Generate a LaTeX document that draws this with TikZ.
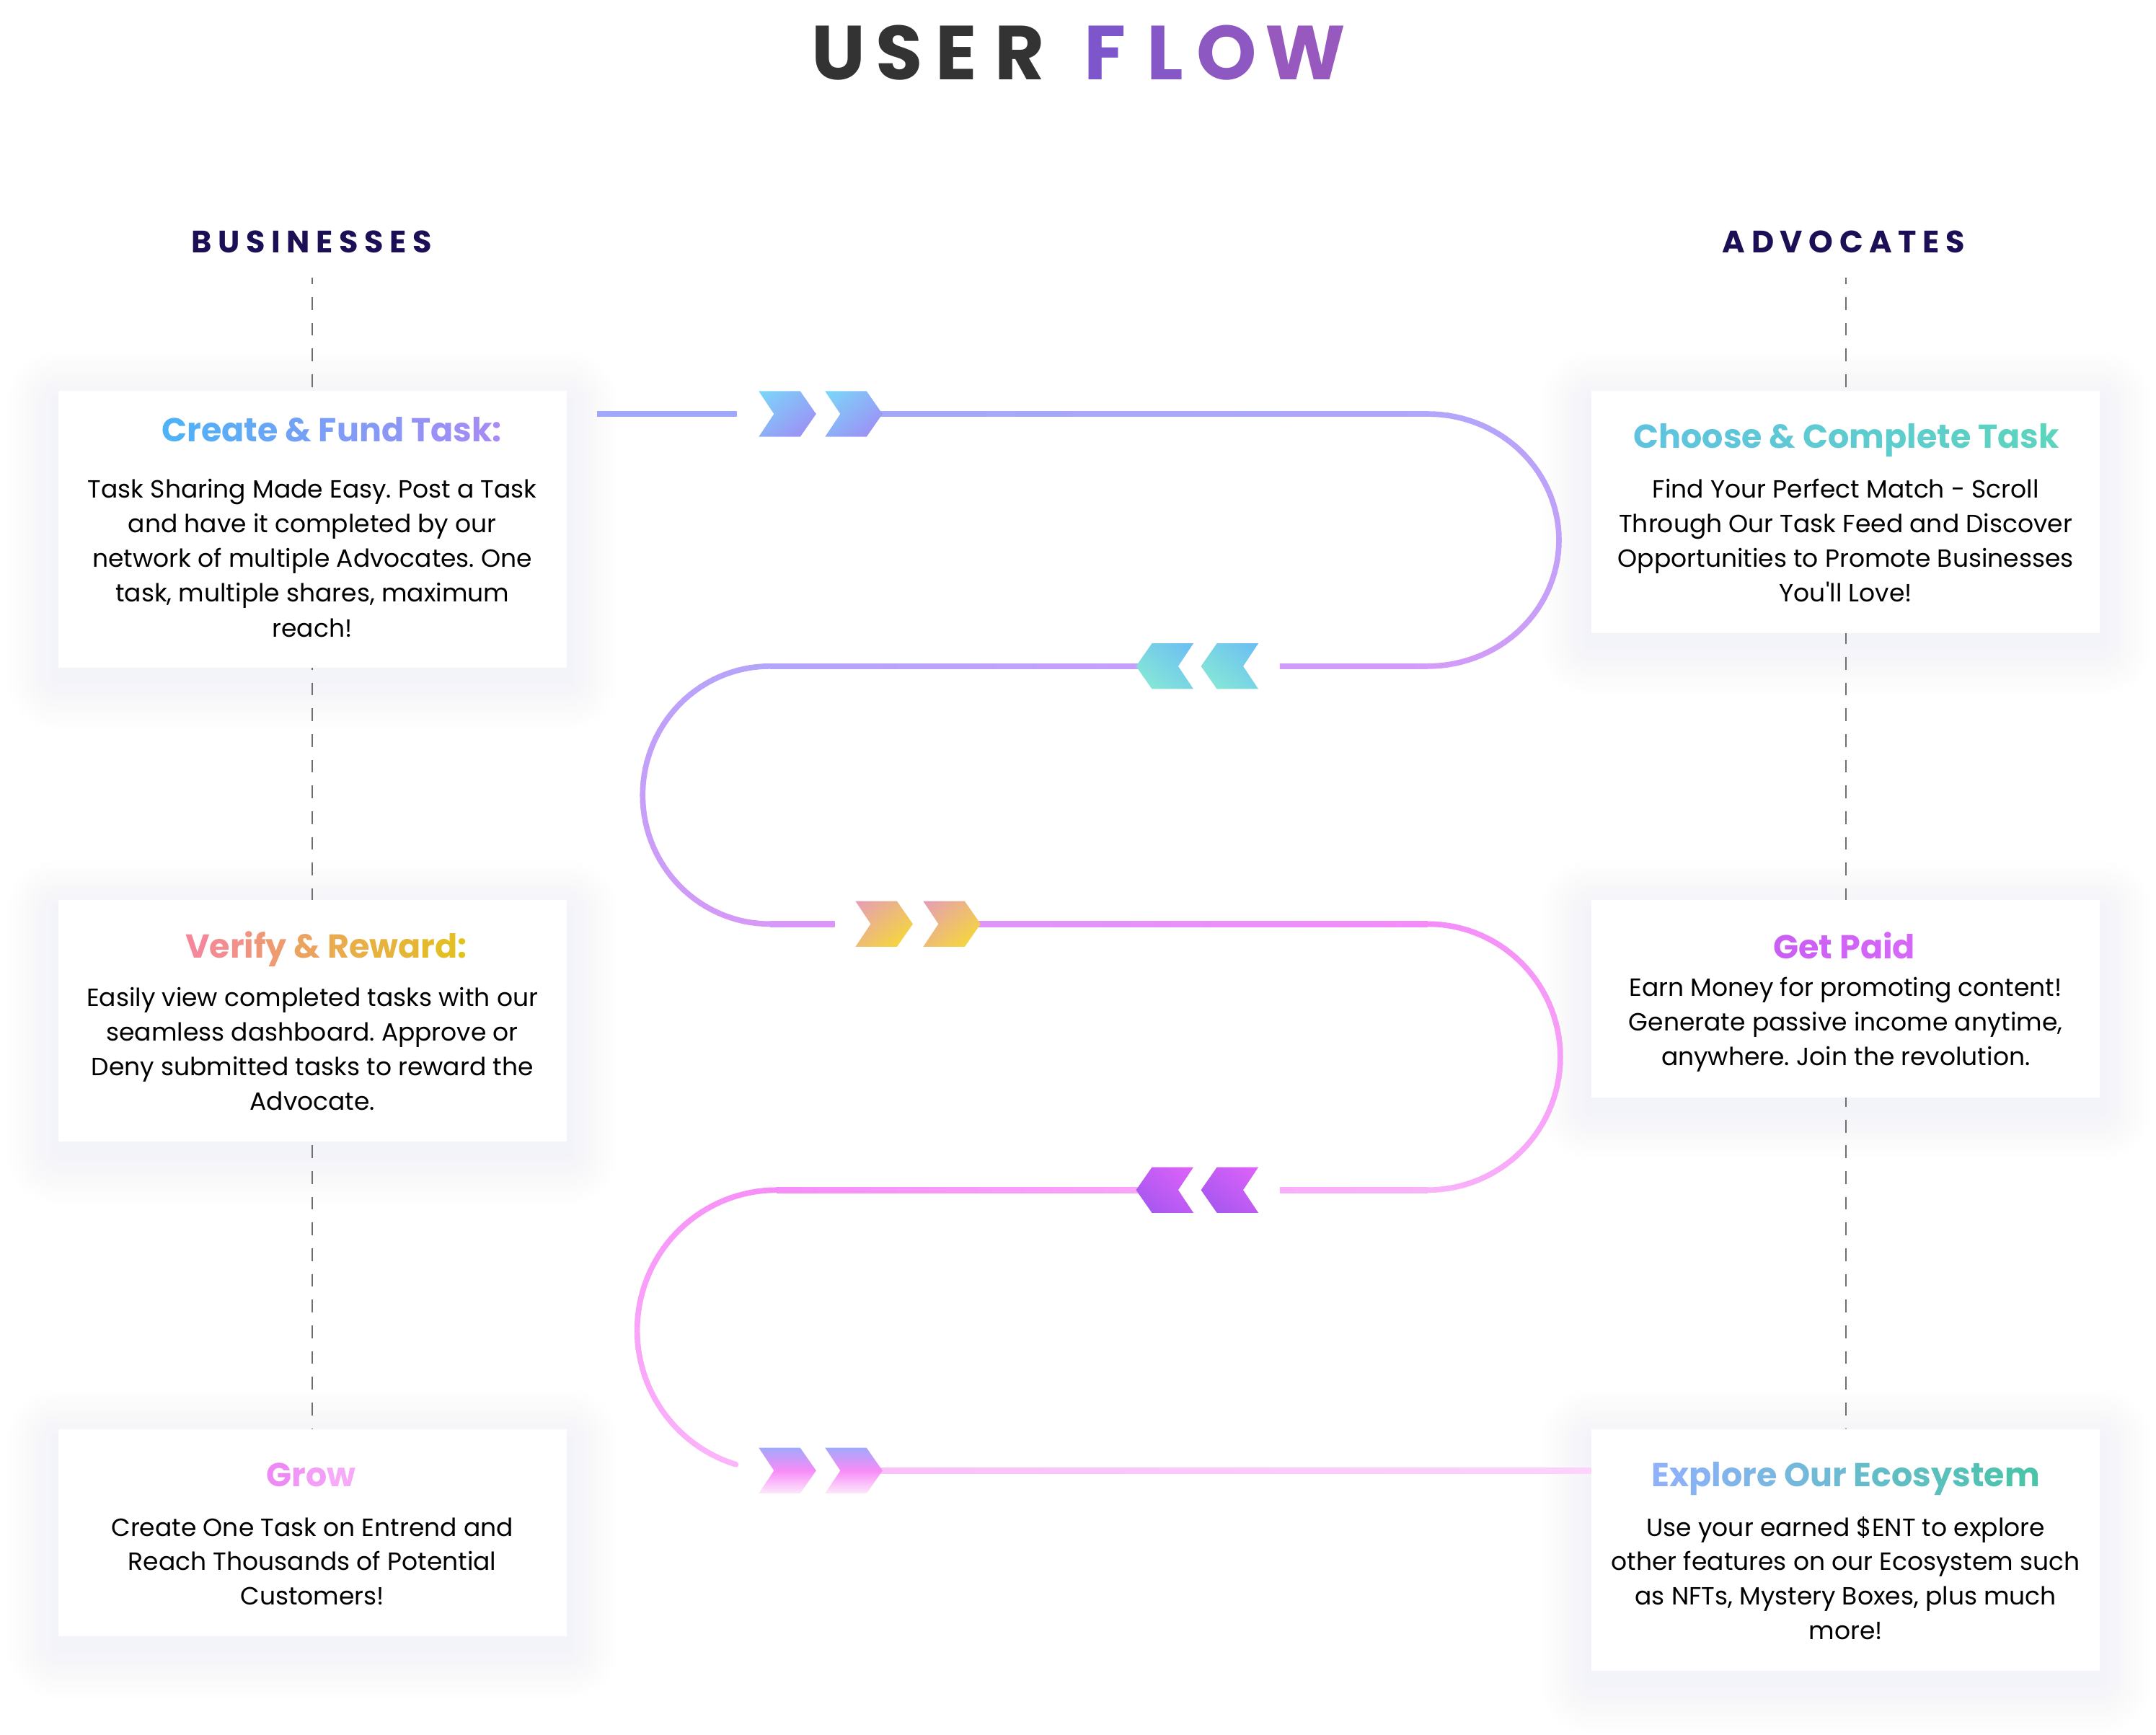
\documentclass[tikz,border=0pt]{standalone}
\usepackage{fontspec}
\setmainfont{Poppins}
\newfontfamily\pop{Poppins}
\newfontfamily\labelfont[LetterSpace=20]{Poppins}
\usetikzlibrary{calc,shadings}
\pgfdeclarelayer{shadowlayer}
\pgfdeclarelayer{dashlayer}
\pgfsetlayers{shadowlayer,dashlayer,main}

\definecolor{titlegray}{HTML}{333333}
\definecolor{navy}{HTML}{1C0F56}
\definecolor{dashgray}{HTML}{6E6E6E}
\definecolor{shadowc}{HTML}{D8E0FA}
% heading gradients
\definecolor{hAa}{HTML}{4FB1F6}\definecolor{hAb}{HTML}{A88BF5}
\definecolor{hBa}{HTML}{5FC3E0}\definecolor{hBb}{HTML}{5CD4BE}
\definecolor{hCa}{HTML}{F4889A}\definecolor{hCb}{HTML}{E2C21C}
\definecolor{hDa}{HTML}{CB5EF5}\definecolor{hDb}{HTML}{D567F9}
\definecolor{hEa}{HTML}{EE8AF6}\definecolor{hEb}{HTML}{F6AAF8}
\definecolor{hFa}{HTML}{8EB1FA}\definecolor{hFb}{HTML}{4CC4AC}
% title FLOW
\definecolor{fF}{HTML}{7E56CB}\definecolor{fL}{HTML}{8557C7}
\definecolor{fO}{HTML}{8E58C3}\definecolor{fW}{HTML}{9859BF}
% path colours
\definecolor{pA}{HTML}{A0A8F9}\definecolor{pB}{HTML}{A3A8F9}
\definecolor{pC}{HTML}{B0A6FA}\definecolor{pD}{HTML}{D49BF8}
\definecolor{pE}{HTML}{B3A5FA}\definecolor{pF}{HTML}{C6A0FA}
\definecolor{pG}{HTML}{CE9CF9}\definecolor{pH}{HTML}{D898F8}
\definecolor{pI}{HTML}{DA97F8}\definecolor{pJ}{HTML}{DE95F8}
\definecolor{pK}{HTML}{F48CF8}\definecolor{pL}{HTML}{F9B3F9}
\definecolor{pM}{HTML}{F78DF8}\definecolor{pN}{HTML}{F9A4F9}
\definecolor{pO}{HTML}{F9AEF9}\definecolor{pP}{HTML}{FBB6FA}
\definecolor{pQ}{HTML}{FAC0FA}\definecolor{pR}{HTML}{FBD3FB}
% chevron colours
\definecolor{kAa}{HTML}{7AD8F9}\definecolor{kAb}{HTML}{A286F4}
\definecolor{kBa}{HTML}{6ABDF4}\definecolor{kBb}{HTML}{8AEDD2}
\definecolor{kCa}{HTML}{E59DB8}\definecolor{kCb}{HTML}{F7DF2A}
\definecolor{kDa}{HTML}{DF63F9}\definecolor{kDb}{HTML}{9E55EF}
\definecolor{kEa}{HTML}{A2A8FA}\definecolor{kEm}{HTML}{F78CF8}\definecolor{kEb}{HTML}{FDE9FB}

\ExplSyntaxOn
\int_new:N \l_gt_n_int
\int_new:N \l_gt_i_int
\str_new:N \l_gt_str
\NewDocumentCommand \gradtext { m m m }
  {
    \str_set:Nn \l_gt_str {#3}
    \int_set:Nn \l_gt_n_int { \int_max:nn {1} { \str_count:N \l_gt_str - 1 } }
    \int_zero:N \l_gt_i_int
    \str_map_inline:Nn \l_gt_str
      {
        \str_if_eq:nnTF {##1} {~}
          { \c_space_tl }
          {
            \exp_args:Nx \color { #2 ! \int_eval:n { 100 * \l_gt_i_int / \l_gt_n_int } ! #1 }
            ##1
          }
        \int_incr:N \l_gt_i_int
      }
  }
\ExplSyntaxOff

% arc with colour gradient: cx cy rx ry t1 t2 colA colB
\newcommand\gradarc[8]{%
  \foreach \k in {1,...,60}{%
    \pgfmathsetmacro\ta{#5+(#6-#5)*(\k-1)/60}%
    \pgfmathsetmacro\tb{#5+(#6-#5)*\k/60}%
    \pgfmathtruncatemacro\pc{100*(\k-0.5)/60}%
    \draw[pathline, color=#8!\pc!#7] ({#1+#3*cos(\ta)},{#2+#4*sin(\ta)}) -- ({#1+#3*cos(\tb)},{#2+#4*sin(\tb)});
  }}
% right-pointing chevron: left x, centre y, shading options
\newcommand\chevR[3]{\shade[#3] (#1,#2) ++(0,-16.5) -- ++(30,0) -- ++(11.5,16.5) -- ++(-11.5,16.5) -- ++(-30,0) -- ++(11,-16.5) -- cycle;}
% left-pointing chevron: tip x, centre y, shading options
\newcommand\chevL[3]{\shade[#3] (#1,#2) -- ++(11.5,-16.5) -- ++(30,0) -- ++(-11,16.5) -- ++(11,16.5) -- ++(-30,0) -- cycle;}
% straight gradient stroke: x1 x2 y colA colB
\newcommand\gradline[5]{\shade[left color=#4, right color=#5] (#1,{#3-2}) rectangle (#2,{#3+2});}

\tikzset{
  pathline/.style={line width=2pt, line cap=round},
  dashline/.style={draw=dashgray, line width=0.6pt, dash pattern=on 4.65pt off 4.65pt, dash phase=2.35pt},
  card/.style={fill=white, inner sep=0pt, minimum width=184pt},
  head/.style={font=\pop\bfseries\fontsize{12}{14}\selectfont, anchor=base, inner sep=0pt},
  bodytext/.style={font=\pop\frenchspacing\fontsize{9}{10}\selectfont, anchor=base, inner sep=0pt, text=black},
  lab/.style={font=\labelfont\bfseries\fontsize{11.2}{13}\selectfont, anchor=base, inner sep=0pt, text=navy},
  ttl/.style={font=\pop\bfseries\fontsize{27.7}{30}\selectfont, anchor=base, inner sep=0pt},
  chevA/.style={upper left=kAa, lower right=kAb, upper right=kAa!50!kAb, lower left=kAa!50!kAb},
  chevB/.style={upper right=kBa, lower left=kBb, upper left=kBa!50!kBb, lower right=kBa!50!kBb},
  chevC/.style={upper left=kCa, lower right=kCb, upper right=kCa!50!kCb, lower left=kCa!50!kCb},
  chevD/.style={upper right=kDa, lower left=kDb, upper left=kDa!50!kDb, lower right=kDa!50!kDb},
  chevE/.style={top color=kEa, bottom color=kEb, middle color=kEm},
}

\begin{document}
\begin{tikzpicture}[x=0.5pt,y=-0.5pt]
\useasboundingbox (0,0) rectangle (1560,1255);
\begin{pgfonlayer}{shadowlayer}
  \fill[white] (0,0) rectangle (1560,1255);
\end{pgfonlayer}

% ---------- cards ----------
\node[card, minimum height=100pt] (L1) at (226,383) {};
\node[card, minimum height=87.5pt] (L2) at (226,738.5) {};
\node[card, minimum height=75pt] (L3) at (226,1109) {};
\node[card, minimum height=87.5pt] (R1) at (1335.5,370.5) {};
\node[card, minimum height=71.5pt] (R2) at (1335.5,722.5) {};
\node[card, minimum height=87.5pt] (R3) at (1335.5,1121.5) {};

\begin{pgfonlayer}{shadowlayer}
  \foreach \b in {L1,L2,L3,R1,R2,R3}{
    \foreach \i in {1,...,12}{
      \pgfmathsetmacro\rr{\i*1.5}
      \fill[shadowc, opacity=0.02, rounded corners=\rr pt]
        ($(\b.south west)+(-\i*3,\i*3+8)$) rectangle ($(\b.north east)+(\i*3,-\i*3+8)$);
    }
  }
\end{pgfonlayer}

% ---------- dashed guide lines ----------
\coordinate (dL) at (226,201);
\coordinate (dR) at (1335.5,201);
\begin{pgfonlayer}{dashlayer}
  \draw[dashline] (dL) -- (L3.north);
  \draw[dashline] (dR) -- (R3.north);
\end{pgfonlayer}

% ---------- title ----------
\node[ttl, text=titlegray] (tU) at (606.8,57.4) {U};
\node[ttl, text=titlegray] (tS) at (650.8,57.4) {S};
\node[ttl, text=titlegray] (tE) at (692,57.4) {E};
\node[ttl, text=titlegray] (tR) at (738,57.4) {R};
\node[ttl, text=fF] (tF) at (799.6,57.4) {F};
\node[ttl, text=fL] (tL) at (843,57.4) {L};
\node[ttl, text=fO] (tO) at (887.8,57.4) {O};
\node[ttl, text=fW] (tW) at (944.3,57.4) {W};

% ---------- column labels ----------
\node[lab] (bus) at (225.5,183) {BUSINESSES};
\node[lab] (adv) at (1334,183) {ADVOCATES};

% ---------- serpentine path ----------
% row 1
\gradline{432}{533}{299.5}{pA}{pA}
\gradline{636}{1033}{299.5}{pB}{pC}
\gradarc{1033}{390.75}{95}{91.25}{-90}{90}{pC}{pD}
% row 2
\gradline{926}{1033}{482}{pG}{pD}
\gradline{557}{828}{482}{pE}{pF}
\gradarc{557}{575.25}{92}{93.25}{270}{90}{pE}{pH}
% row 3
\gradline{557}{604}{668.5}{pH}{pI}
\gradline{707}{1033}{668.5}{pJ}{pK}
\gradarc{1033}{764.75}{96}{96.25}{-90}{90}{pK}{pL}
% row 4
\gradline{926}{1033}{861}{pO}{pL}
\gradline{562}{828}{861}{pM}{pN}
\gradarc{562}{962.5}{101}{101.5}{270}{107}{pM}{pP}
% row 5 (runs into the last advocate card)
\coordinate (r5) at (636,1064);
\shade[left color=pQ, right color=pR] ($(r5)+(0,-2)$) rectangle ($(R3.west |- r5)+(0,2)$);

% chevrons
\chevR{549}{299.5}{chevA}
\chevR{597}{299.5}{chevA}
\chevL{822}{482}{chevB}
\chevL{869}{482}{chevB}
\chevR{619}{668.5}{chevC}
\chevR{668}{668.5}{chevC}
\chevL{822}{861}{chevD}
\chevL{869}{861}{chevD}
\chevR{549}{1064}{chevE}
\chevR{597}{1064}{chevE}

% ---------- card texts ----------
\node[head] (hL1) at (240,319.6) {\gradtext{hAa}{hAb}{Create & Fund Task:}};
\foreach \t [count=\i] in {{Task Sharing Made Easy. Post a Task},{and have it completed by our},{network of multiple Advocates. One},{task, multiple shares, maximum},{reach!}}
  \node[bodytext] (bL1\i) at (226,{360+25.2*(\i-1)}) {\t};

\node[head] (hR1) at (1336,324.3) {\gradtext{hBa}{hBb}{Choose & Complete Task}};
\foreach \t [count=\i] in {{Find Your Perfect Match - Scroll},{Through Our Task Feed and Discover},{Opportunities to Promote Businesses},{You'll Love!}}
  \node[bodytext] (bR1\i) at (1335.5,{360+25.2*(\i-1)}) {\t};

\node[head] (hL2) at (236,693) {\gradtext{hCa}{hCb}{Verify & Reward:}};
\foreach \t [count=\i] in {{Easily view completed tasks with our},{seamless dashboard. Approve or},{Deny submitted tasks to reward the},{Advocate.}}
  \node[bodytext] (bL2\i) at (226,{728.2+25*(\i-1)}) {\t};

\node[head] (hR2) at (1334.5,693.6) {\gradtext{hDa}{hDb}{Get Paid}};
\foreach \t [count=\i] in {{Earn Money for promoting content!},{Generate passive income anytime,},{anywhere. Join the revolution.}}
  \node[bodytext] (bR2\i) at (1335.5,{720.9+25*(\i-1)}) {\t};

\node[head] (hL3) at (225,1075.6) {\gradtext{hEa}{hEb}{Grow}};
\foreach \t [count=\i] in {{Create One Task on Entrend and},{Reach Thousands of Potential},{Customers!}}
  \node[bodytext] (bL3\i) at (226,{1111.3+25*(\i-1)}) {\t};

\node[head] (hR3) at (1335.5,1075.6) {\gradtext{hFa}{hFb}{Explore Our Ecosystem}};
\foreach \t [count=\i] in {{Use your earned \$ENT to explore},{other features on our Ecosystem such},{as NFTs, Mystery Boxes, plus much},{more!}}
  \node[bodytext] (bR3\i) at (1335.5,{1111.3+25*(\i-1)}) {\t};
\end{tikzpicture}
\end{document}
